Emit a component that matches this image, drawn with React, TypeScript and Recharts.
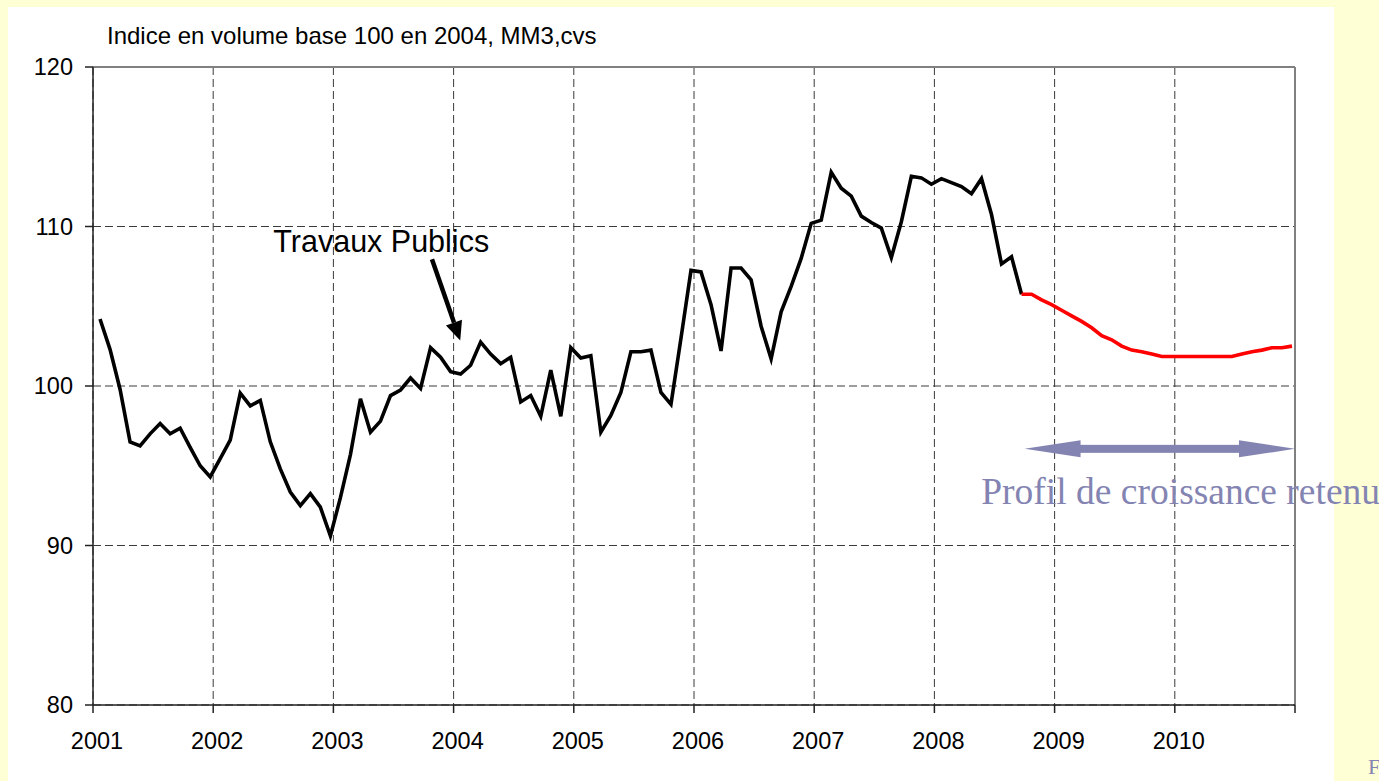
import { LineChart, Line, XAxis, YAxis, CartesianGrid, ReferenceLine, ReferenceDot } from 'recharts';

const START_YEAR = 2001;
const MONTH_OFFSET = 0.7;
const YEAR_TICKS = [2001, 2002, 2003, 2004, 2005, 2006, 2007, 2008, 2009, 2010, 2011];
const VALUE_TICKS = [80, 90, 100, 110, 120];

// Travaux Publics, indice en volume (MM3, cvs), mensuel
const OBSERVED = [
  104.2, 102.3, 99.8, 96.5, 96.25, 97.0, 97.65, 97.0, 97.35, 96.15, 95.0, 94.3,
  95.45, 96.6, 99.55, 98.75, 99.1, 96.5, 94.8, 93.35, 92.5, 93.25, 92.4, 90.6,
  93.0, 95.7, 99.2, 97.1, 97.8, 99.4, 99.75, 100.5, 99.85, 102.4, 101.8, 100.9,
  100.75, 101.3, 102.75, 102.0, 101.4, 101.8, 99.0, 99.4, 98.1, 101.0, 98.1, 102.4,
  101.75, 101.9, 97.1, 98.15, 99.6, 102.15, 102.15, 102.25, 99.6, 98.85, 103.0, 107.25,
  107.15, 105.1, 102.2, 107.4, 107.4, 106.65, 103.75, 101.7, 104.65, 106.25, 108.0, 110.2,
  110.4, 113.4, 112.4, 111.9, 110.65, 110.25, 109.9, 108.05, 110.3, 113.15, 113.05, 112.65,
  113.0, 112.75, 112.5, 112.05, 113.0, 110.75, 107.65, 108.1, 105.75,
];

// profil retenu, part of the last observed month
const FORECAST = [
  105.75, 105.75, 105.4, 105.1, 104.75, 104.4, 104.05, 103.65, 103.15, 102.9, 102.5, 102.25,
  102.15, 102.0, 101.85, 101.85, 101.85, 101.85, 101.85, 101.85, 101.85, 101.85, 102.0, 102.15,
  102.25, 102.4, 102.4, 102.5,
];

const TP_LABEL = { t: 2002.5, v: 108.42 };
const TP_ARROW = [{ x: 2003.82, y: 107.95 }, { x: 2004.055, y: 102.85 }];
const PROFILE_ARROW = [{ x: 2008.75, y: 96.06 }, { x: 2011, y: 96.06 }];
const PROFILE_LABEL = { t: 2008.39, v: 92.6 };

const FORECAST_START = OBSERVED.length - 1;

const data = Array.from({ length: FORECAST_START + FORECAST.length }, (_, i) => ({
  t: START_YEAR + (i + MONTH_OFFSET) / 12,
  observed: i < OBSERVED.length ? OBSERVED[i] : null,
  forecast: i >= FORECAST_START ? FORECAST[i - FORECAST_START] : null,
}));

const BLUE = '#8484B2';

function PointerArrow(p: any) {
  const { x1, y1, x2, y2 } = p;
  const len = Math.hypot(x2 - x1, y2 - y1);
  const ux = (x2 - x1) / len;
  const uy = (y2 - y1) / len;
  const bx = x2 - ux * 19;
  const by = y2 - uy * 19;
  return (
    <g>
      <line x1={x1} y1={y1} x2={bx} y2={by} stroke="#000" strokeWidth={4.5} />
      <polygon
        points={`${x2},${y2} ${bx - uy * 8.5},${by + ux * 8.5} ${bx + uy * 8.5},${by - ux * 8.5}`}
        fill="#000"
      />
    </g>
  );
}

function DoubleArrow(p: any) {
  const { x1, y1, x2 } = p;
  const head = 56;
  return (
    <g fill={BLUE}>
      <rect x={x1 + head - 2} y={y1 - 4} width={x2 - x1 - 2 * head + 4} height={8} />
      <polygon points={`${x1},${y1} ${x1 + head},${y1 - 8.5} ${x1 + head},${y1 + 8.5}`} />
      <polygon points={`${x2},${y1} ${x2 - head},${y1 - 8.5} ${x2 - head},${y1 + 8.5}`} />
    </g>
  );
}

export default function App() {
  return (
    <div
      style={{
        position: 'absolute',
        left: 0,
        top: 0,
        width: 1379,
        height: 781,
        background: '#FFFFD5',
        overflow: 'hidden',
        fontFamily: '"Liberation Sans", Arial, sans-serif',
      }}
    >
      <div style={{ position: 'absolute', left: 8, top: 7, width: 1326, height: 780, background: '#fff' }} />
      <div
        style={{
          position: 'absolute',
          left: 1368,
          top: 754,
          fontFamily: '"Liberation Serif", "Times New Roman", serif',
          fontSize: 22,
          color: BLUE,
        }}
      >
        F
      </div>
      <div style={{ position: 'absolute', left: 0, top: 0 }}>
        <LineChart width={1379} height={781} data={data} margin={{ top: 67, right: 84, bottom: 36, left: 0 }}>
          <CartesianGrid stroke="#3a3a3a" strokeDasharray="8 4" strokeWidth={1} />
          <XAxis
            dataKey="t"
            type="number"
            domain={[2001, 2011]}
            ticks={YEAR_TICKS}
            interval={0}
            height={40}
            tickSize={8}
            tickMargin={19}
            tickFormatter={(v: number) => (v === 2011 ? '' : String(v))}
            tick={{ fill: '#000', fontSize: 23.5, dx: 4 }}
            axisLine={{ stroke: '#222', strokeWidth: 1.5 }}
            tickLine={{ stroke: '#222', strokeWidth: 1.5 }}
          />
          <YAxis
            type="number"
            domain={[80, 120]}
            ticks={VALUE_TICKS}
            width={93}
            tickSize={8}
            tickMargin={12}
            tick={{ fill: '#000', fontSize: 23.5 }}
            axisLine={{ stroke: '#222', strokeWidth: 1.5 }}
            tickLine={{ stroke: '#222', strokeWidth: 1.5 }}
          />
          <ReferenceLine y={120} stroke="#808080" strokeWidth={2} />
          <ReferenceLine x={2011} stroke="#808080" strokeWidth={2} />
          <Line
            dataKey="observed"
            type="linear"
            stroke="#000"
            strokeWidth={3.6}
            dot={false}
            isAnimationActive={false}
          />
          <Line
            dataKey="forecast"
            type="linear"
            stroke="#FF0000"
            strokeWidth={3.6}
            dot={false}
            isAnimationActive={false}
          />
          <ReferenceLine segment={TP_ARROW} shape={PointerArrow} />
          <ReferenceLine segment={PROFILE_ARROW} shape={DoubleArrow} />
          <ReferenceDot
            x={TP_LABEL.t}
            y={TP_LABEL.v}
            r={1}
            shape={(p: any) => (
              <text x={p.cx} y={p.cy} fontSize={30.5} fill="#000" textAnchor="start">
                Travaux Publics
              </text>
            )}
          />
          <ReferenceDot
            x={PROFILE_LABEL.t}
            y={PROFILE_LABEL.v}
            r={1}
            shape={(p: any) => (
              <text
                x={p.cx}
                y={p.cy}
                fontSize={37.5}
                fill={BLUE}
                textAnchor="start"
                fontFamily='"Liberation Serif", "Times New Roman", serif'
              >
                Profil de croissance retenu
              </text>
            )}
          />
        </LineChart>
      </div>
      <div style={{ position: 'absolute', left: 107, top: 22, fontSize: 24, color: '#000', whiteSpace: 'nowrap' }}>
        Indice en volume base 100 en 2004, MM3,cvs
      </div>
    </div>
  );
}
